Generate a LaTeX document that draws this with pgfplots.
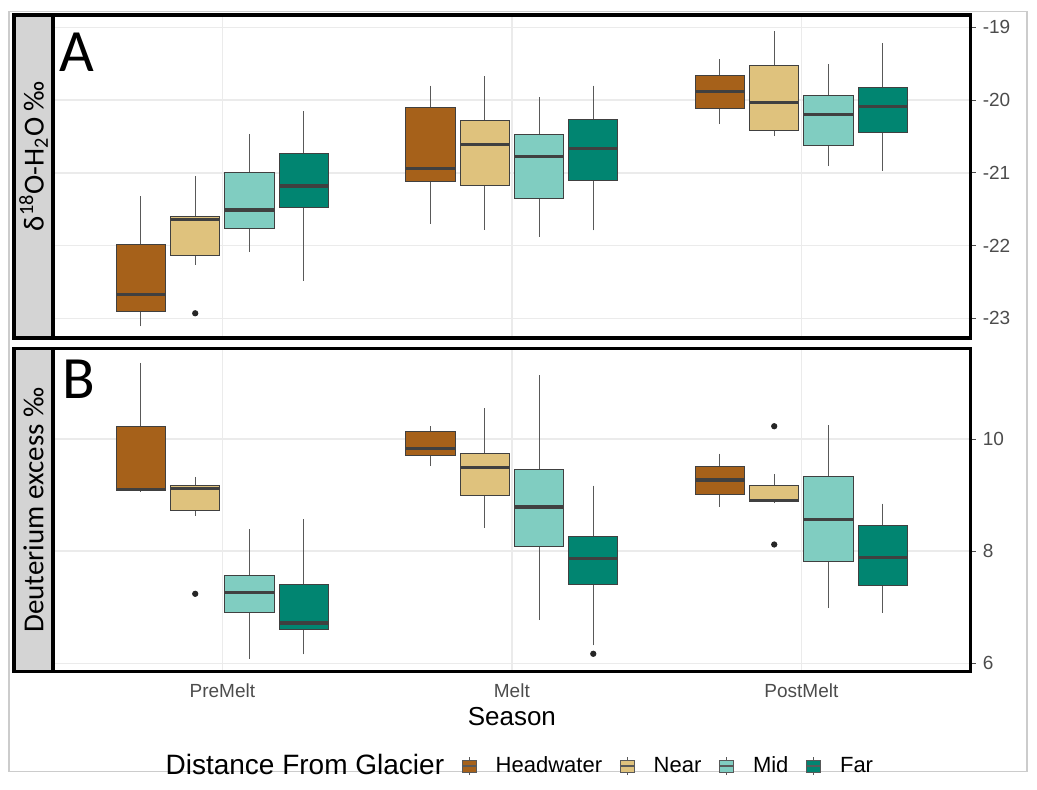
\documentclass[border=0pt]{standalone}
\usepackage{fontspec}
\setmainfont{Liberation Sans}
\newfontfamily\carlito{Carlito}
\usepackage{pgfplots}
\pgfplotsset{compat=1.18}
\usepgfplotslibrary{statistics}

\definecolor{hw}{HTML}{A6611A}
\definecolor{nr}{HTML}{DFC27D}
\definecolor{md}{HTML}{80CDC1}
\definecolor{fr}{HTML}{018571}

\pgfplotsset{
  panel/.style={
    scale only axis, width=458.85pt,
    xmin=-0.585, xmax=2.585,
    axis line style={line width=1.6pt, black},
    ytick pos=right, yticklabel pos=right, tick align=outside,
    major tick length=2.5pt, tick style={black!70, line width=0.5pt},
    yticklabel style={font=\fontsize{9.5}{10}\selectfont, text=black!70},
    xticklabel style={font=\fontsize{9.5}{10}\selectfont, text=black!70},
    /pgf/number format/assume math mode=true,
    xtick={0,1,2}, xtick style={draw=none},
    xmajorgrids, ymajorgrids, grid style={black!8, line width=0.8pt},
  },
  bp/.style={forget plot, draw=black!75, line width=0.5pt, solid,
    mark=*, mark size=1.3pt, mark options={fill=black!85, draw=black!85},
    boxplot/draw direction=y,
    boxplot/whisker extend=0, boxplot/box extend=0.17,
    boxplot/every whisker/.style={draw=black!65, line width=0.45pt},
    boxplot/every median/.style={line width=1.6pt, draw=black!75}},
  legbox/.style={legend image code/.code={
    \draw[black!65, line width=0.4pt] (3.5pt,-4.5pt) -- (3.5pt,4.5pt);
    \draw[fill=#1, draw=black!65, line width=0.4pt] (0pt,-3pt) rectangle (7pt,3pt);
    \draw[black!65, line width=0.8pt] (0pt,0pt) -- (7pt,0pt);}},
}

\begin{document}
\begin{tikzpicture}
\path (0,0) (518.5pt,-394.5pt);
\draw[black!20, line width=0.6pt] (4.5pt,-5.85pt) rectangle (513.5pt,-385.9pt);

% panel A: d18O
\begin{axis}[panel, at={(26.5pt,-7.5pt)}, anchor=north west, height=161.5pt,
  ymin=-23.27, ymax=-18.83, ytick={-23,-22,-21,-20,-19}, xticklabels={}]
  % PreMelt
  \addplot[bp, fill=hw, boxplot prepared={draw position=-0.28125, lower whisker=-23.11, lower quartile=-22.90, median=-22.67, upper quartile=-21.99, upper whisker=-21.32}] coordinates {};
  \addplot[bp, fill=nr, boxplot prepared={draw position=-0.09375, lower whisker=-22.26, lower quartile=-22.13, median=-21.64, upper quartile=-21.60, upper whisker=-21.04}] coordinates {(0,-22.93)};
  \addplot[bp, fill=md, boxplot prepared={draw position=0.09375, lower whisker=-22.09, lower quartile=-21.76, median=-21.51, upper quartile=-20.99, upper whisker=-20.46}] coordinates {};
  \addplot[bp, fill=fr, boxplot prepared={draw position=0.28125, lower whisker=-22.48, lower quartile=-21.47, median=-21.18, upper quartile=-20.73, upper whisker=-20.15}] coordinates {};
  % Melt
  \addplot[bp, fill=hw, boxplot prepared={draw position=0.71875, lower whisker=-21.70, lower quartile=-21.12, median=-20.94, upper quartile=-20.10, upper whisker=-19.80}] coordinates {};
  \addplot[bp, fill=nr, boxplot prepared={draw position=0.90625, lower whisker=-21.78, lower quartile=-21.18, median=-20.61, upper quartile=-20.28, upper whisker=-19.67}] coordinates {};
  \addplot[bp, fill=md, boxplot prepared={draw position=1.09375, lower whisker=-21.88, lower quartile=-21.35, median=-20.77, upper quartile=-20.47, upper whisker=-19.96}] coordinates {};
  \addplot[bp, fill=fr, boxplot prepared={draw position=1.28125, lower whisker=-21.79, lower quartile=-21.10, median=-20.67, upper quartile=-20.27, upper whisker=-19.80}] coordinates {};
  % PostMelt
  \addplot[bp, fill=hw, boxplot prepared={draw position=1.71875, lower whisker=-20.33, lower quartile=-20.11, median=-19.88, upper quartile=-19.66, upper whisker=-19.44}] coordinates {};
  \addplot[bp, fill=nr, boxplot prepared={draw position=1.90625, lower whisker=-20.50, lower quartile=-20.42, median=-20.03, upper quartile=-19.53, upper whisker=-19.05}] coordinates {};
  \addplot[bp, fill=md, boxplot prepared={draw position=2.09375, lower whisker=-20.91, lower quartile=-20.62, median=-20.20, upper quartile=-19.93, upper whisker=-19.50}] coordinates {};
  \addplot[bp, fill=fr, boxplot prepared={draw position=2.28125, lower whisker=-20.97, lower quartile=-20.45, median=-20.09, upper quartile=-19.83, upper whisker=-19.22}] coordinates {};
  \node[anchor=base west, inner sep=0pt, font=\carlito\fontsize{30}{30}\selectfont] at (rel axis cs:0.0065,0.8245) {A};
\end{axis}

% panel B: deuterium excess
\begin{axis}[panel, at={(26.5pt,-174.15pt)}, anchor=north west, height=161.7pt,
  ymin=5.85, ymax=11.62, ytick={6,8,10},
  xticklabels={PreMelt,Melt,PostMelt},
  xlabel={Season}, xlabel style={font=\fontsize{13}{14}\selectfont, yshift=2pt},
  legend style={at={(0.5,-0.2916)}, anchor=center, draw=none, fill=none,
    legend columns=-1, font=\fontsize{11}{13}\selectfont,
    /tikz/every odd column/.append style={column sep=7.5pt},
    /tikz/every even column/.append style={column sep=6.5pt}},
  legend cell align=left]
  % PreMelt
  \addplot[bp, fill=hw, boxplot prepared={draw position=-0.28125, lower whisker=9.06, lower quartile=9.08, median=9.10, upper quartile=10.23, upper whisker=11.36}] coordinates {};
  \addplot[bp, fill=nr, boxplot prepared={draw position=-0.09375, lower whisker=8.63, lower quartile=8.72, median=9.12, upper quartile=9.18, upper whisker=9.33}] coordinates {(0,7.24)};
  \addplot[bp, fill=md, boxplot prepared={draw position=0.09375, lower whisker=6.08, lower quartile=6.91, median=7.27, upper quartile=7.57, upper whisker=8.39}] coordinates {};
  \addplot[bp, fill=fr, boxplot prepared={draw position=0.28125, lower whisker=6.16, lower quartile=6.60, median=6.72, upper quartile=7.40, upper whisker=8.57}] coordinates {};
  % Melt
  \addplot[bp, fill=hw, boxplot prepared={draw position=0.71875, lower whisker=9.52, lower quartile=9.70, median=9.83, upper quartile=10.13, upper whisker=10.23}] coordinates {};
  \addplot[bp, fill=nr, boxplot prepared={draw position=0.90625, lower whisker=8.41, lower quartile=8.99, median=9.49, upper quartile=9.74, upper whisker=10.55}] coordinates {};
  \addplot[bp, fill=md, boxplot prepared={draw position=1.09375, lower whisker=6.77, lower quartile=8.09, median=8.79, upper quartile=9.45, upper whisker=11.14}] coordinates {};
  \addplot[bp, fill=fr, boxplot prepared={draw position=1.28125, lower whisker=6.32, lower quartile=7.41, median=7.87, upper quartile=8.26, upper whisker=9.17}] coordinates {(1,6.17)};
  % PostMelt
  \addplot[bp, fill=hw, boxplot prepared={draw position=1.71875, lower whisker=8.79, lower quartile=9.02, median=9.27, upper quartile=9.52, upper whisker=9.74}] coordinates {};
  \addplot[bp, fill=nr, boxplot prepared={draw position=1.90625, lower whisker=8.86, lower quartile=8.88, median=8.91, upper quartile=9.18, upper whisker=9.38}] coordinates {(2,10.23) (2,8.12)};
  \addplot[bp, fill=md, boxplot prepared={draw position=2.09375, lower whisker=6.98, lower quartile=7.81, median=8.57, upper quartile=9.34, upper whisker=10.25}] coordinates {};
  \addplot[bp, fill=fr, boxplot prepared={draw position=2.28125, lower whisker=6.90, lower quartile=7.39, median=7.89, upper quartile=8.45, upper whisker=8.85}] coordinates {};
  \node[anchor=base west, inner sep=0pt, font=\carlito\fontsize{30}{30}\selectfont] at (rel axis cs:0.0095,0.845) {B};
  % legend
  \addlegendimage{empty legend}
  \addlegendentry{\fontsize{14}{16}\selectfont Distance From Glacier}
  \addlegendimage{legbox=hw}
  \addlegendentry{Headwater}
  \addlegendimage{legbox=nr}
  \addlegendentry{Near}
  \addlegendimage{legbox=md}
  \addlegendentry{Mid}
  \addlegendimage{legbox=fr}
  \addlegendentry{Far}
\end{axis}

% facet strips
\draw[fill=black!17, line width=1.6pt] (7pt,-7.5pt) rectangle (26.5pt,-169pt);
\draw[fill=black!17, line width=1.6pt] (7pt,-174.15pt) rectangle (26.5pt,-335.85pt);
\node[rotate=90, font=\carlito\fontsize{14.5}{15}\selectfont] at (16.75pt,-78pt) {δ\textsuperscript{18}O-H\textsubscript{2}O ‰};
\node[rotate=90, font=\carlito\fontsize{14.5}{15}\selectfont] at (16.75pt,-255pt) {Deuterium excess ‰};
\end{tikzpicture}
\end{document}
